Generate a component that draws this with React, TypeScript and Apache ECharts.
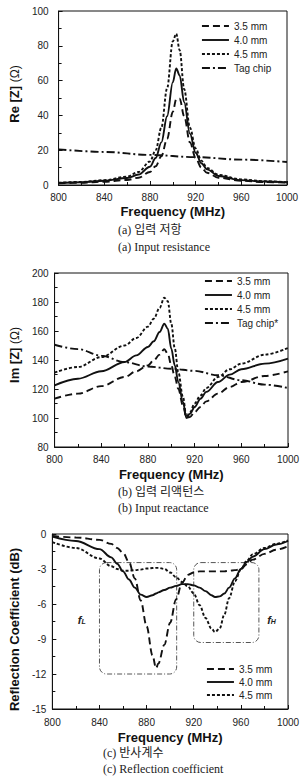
import React, { useEffect, useRef } from 'react';
import * as echarts from 'echarts';

// (a) input resistance, Re[Z] in ohms
const reFreq = [800, 820, 840, 860, 870, 880, 885, 890, 895, 900, 903, 906, 910, 915, 920, 925, 930, 940, 960, 980, 1000];
const re35 = [1.0, 1.3, 1.9, 2.9, 4.2, 7.5, 10.8, 16.5, 26.5, 42, 49.2, 49.6, 39.5, 24.5, 15.5, 10, 7, 4.2, 2.4, 1.7, 1.3];
const re40 = [1.2, 1.6, 2.4, 4.0, 6.0, 10.5, 15.5, 24.5, 39.5, 59, 67, 63, 47.5, 29.5, 18.5, 12.5, 9, 5.2, 2.8, 2.0, 1.5];
const re45 = [1.3, 1.8, 2.8, 4.8, 7.5, 13.5, 20, 33, 55.5, 82.5, 87, 77.5, 55, 33, 21, 14, 9.8, 5.8, 3.2, 2.2, 1.6];
const reTagFreq = [800, 840, 880, 920, 960, 1000];
const reTag = [20.5, 19.0, 17.3, 16.0, 14.6, 13.2];

// (b) input reactance, Im[Z] in ohms
const imFreq = [800, 820, 840, 860, 870, 880, 885, 890, 894, 897, 900, 903, 906, 910, 913, 916, 920, 925, 930, 940, 950, 960, 980, 1000];
const im35 = [113.3, 116.8, 122, 128.3, 132.2, 136.3, 139.8, 143.7, 147.4, 144.4, 136.3, 128.3, 120.2, 108.7, 100, 100.7, 104.1, 107.6, 111.5, 116.8, 121.4, 124.8, 129, 132.2];
const im40 = [122.5, 127.1, 132.2, 138.6, 143.2, 149, 152.9, 159.3, 165, 161.6, 147.8, 136.3, 124.8, 111, 100, 103, 107.6, 113.3, 118, 124.8, 129.9, 133.6, 137.5, 141];
const im45 = [131.3, 135.2, 142, 150, 155.2, 163, 168.5, 176, 183, 180.5, 165, 148, 131.7, 114.5, 100.7, 104, 110, 115.6, 120.7, 128.3, 133.6, 137.5, 143.7, 148.3];
const imTagFreq = [800, 820, 840, 860, 880, 900, 920, 940, 960, 980, 1000];
const imTag = [150.5, 147.5, 143, 138.5, 135.5, 134, 132.5, 129.5, 126, 123, 120.7];

// (c) reflection coefficient in dB
const rcFreq = [800, 820, 840, 850, 855, 860, 865, 870, 875, 880, 885, 888, 890, 895, 900, 905, 910, 915, 920, 925, 930, 935, 938, 942, 946, 950, 955, 960, 965, 970, 980, 990, 1000];
const rc35 = [-0.17, -0.3, -0.5, -0.85, -1.2, -1.6, -2.4, -3.8, -5.7, -7.9, -10.4, -11.5, -11.1, -9.5, -7.6, -5.6, -4.2, -3.5, -3.3, -3.2, -3.2, -3.2, -3.2, -3.2, -3.2, -3.15, -3.1, -3.0, -2.6, -2.2, -1.7, -1.35, -1.05];
const rc40 = [-0.23, -0.6, -1.3, -2.0, -2.55, -3.2, -3.9, -4.6, -5.2, -5.4, -5.25, -5.1, -5.0, -4.8, -4.6, -4.45, -4.3, -4.3, -4.4, -4.6, -4.9, -5.25, -5.4, -5.35, -5.1, -4.6, -3.8, -3.0, -2.4, -1.95, -1.3, -0.9, -0.6];
const rc45 = [-0.69, -1.2, -2.1, -2.77, -3.0, -3.14, -3.15, -3.1, -3.05, -2.96, -2.92, -2.9, -2.9, -3.0, -3.3, -3.7, -4.1, -4.5, -5.1, -6.1, -7.2, -8.1, -8.4, -8.1, -6.9, -5.5, -4.05, -3.05, -2.3, -1.75, -1.2, -0.85, -0.55];

// dash-dot boxes around the two resonance bands: [f1, dB1, f2, dB2]
const bandBoxes = [
  [840, -2.45, 905.5, -12.0],
  [920, -2.45, 975.3, -9.3],
];
// band labels: [f, dB, subscript]
const bandLabels: [number, number, string][] = [
  [825, -7.3, 'L'],
  [986, -7.3, 'H'],
];

const names35 = '3.5 mm';
const names40 = '4.0 mm';
const names45 = '4.5 mm';

const SANS = '"Liberation Sans", Arial, sans-serif';
const SERIF = '"Liberation Serif", "Noto Sans CJK KR", serif';
const INK = '#111';

const LONG = [7, 4];
const SHORT = [3, 2];
const DASHDOT = [8, 3, 2, 3];

const pairs = (xs: number[], ys: number[]) => xs.map((x, i) => [x, ys[i]]);

const line = (name: string, xs: number[], ys: number[], dash: any, gi: number) => ({
  type: 'line',
  name,
  xAxisIndex: gi,
  yAxisIndex: gi,
  data: pairs(xs, ys),
  symbol: 'none',
  smooth: 0.35,
  smoothMonotone: 'x',
  silent: true,
  lineStyle: { color: INK, width: 1.9, type: dash },
  itemStyle: { color: INK },
});

const xAxisFor = (gi: number, labelMargin: number, nameGap: number) => ({
  type: 'value',
  gridIndex: gi,
  min: 800,
  max: 1000,
  interval: 40,
  name: 'Frequency (MHz)',
  nameLocation: 'middle',
  nameGap,
  nameTextStyle: { fontFamily: SANS, fontSize: 13, fontWeight: 'bold', color: INK },
  axisLine: { show: true, onZero: false, lineStyle: { color: INK, width: 1 } },
  axisTick: { show: true, inside: true, length: 4, lineStyle: { color: INK } },
  minorTick: { show: true, splitNumber: 2, length: 3, lineStyle: { color: INK } },
  axisLabel: { fontFamily: SANS, fontSize: 10, color: '#222', margin: labelMargin, formatter: (v: number) => String(v) },
  splitLine: { show: false },
});

const yAxisFor = (gi: number, min: number, max: number, interval: number, name: string, nameGap: number, labelMargin: number, pad: number[]) => ({
  type: 'value',
  gridIndex: gi,
  min,
  max,
  interval,
  name,
  nameLocation: 'middle',
  nameGap,
  nameRotate: 90,
  nameTextStyle: {
    fontFamily: SANS,
    fontSize: 13,
    fontWeight: 'bold',
    color: INK,
    padding: pad,
    rich: {
      b: { fontFamily: SANS, fontSize: 13, fontWeight: 'bold', color: INK },
      n: { fontFamily: SANS, fontSize: 12, fontWeight: 'normal', color: INK },
    },
  },
  axisLine: { show: true, lineStyle: { color: INK, width: 1 } },
  axisTick: { show: true, inside: true, length: 4, lineStyle: { color: INK } },
  minorTick: { show: true, splitNumber: 2, length: 3, lineStyle: { color: INK } },
  axisLabel: { fontFamily: SANS, fontSize: 10, color: '#222', margin: labelMargin },
  splitLine: { show: false },
});

const legendFor = (names: string[], left: number, top: number, gap: number) => ({
  orient: 'vertical',
  left,
  top,
  padding: 0,
  data: names,
  itemWidth: 27,
  itemHeight: 10,
  itemGap: gap,
  selectedMode: false,
  itemStyle: { opacity: 0 },
  lineStyle: { width: 1.9 },
  textStyle: { fontFamily: SANS, fontSize: 10, color: '#222', lineHeight: 12 },
});

const caption = (text: string, x: number, y: number) => ({
  type: 'text',
  x,
  y,
  silent: true,
  style: { text, font: `12px ${SERIF}`, fill: '#222', verticalAlign: 'middle', align: 'left' },
});

export default function App() {
  const ref = useRef<HTMLDivElement>(null);

  useEffect(() => {
    if (!ref.current) return;
    const chart = echarts.init(ref.current, undefined, { renderer: 'svg' });

    const option: any = {
      animation: false,
      backgroundColor: '#fff',
      grid: [
        { left: 47, top: 11, width: 240, height: 174, show: true, borderColor: INK, borderWidth: 1, backgroundColor: 'transparent' },
        { left: 47, top: 273, width: 241, height: 174, show: true, borderColor: INK, borderWidth: 1, backgroundColor: 'transparent' },
        { left: 47, top: 534, width: 241, height: 175, show: true, borderColor: INK, borderWidth: 1, backgroundColor: 'transparent' },
      ],
      xAxis: [xAxisFor(0, 7, 20), xAxisFor(1, 7, 21), xAxisFor(2, 8, 22)],
      yAxis: [
        yAxisFor(0, 0, 100, 20, '{b|Re [Z]} {n|(Ω)}', 30, 10, [0, 0, 0, 8]),
        yAxisFor(1, 80, 200, 20, '{b|Im [Z]} {n|(Ω)}', 30, 6, [0, 0, 0, 10]),
        yAxisFor(2, -15, 0, 3, 'Reflection Coefficient (dB)', 30, 6, [0, 16, 0, 0]),
      ],
      legend: [
        legendFor([names35, names40, names45, 'Tag chip'], 201, 20, 2),
        legendFor([names35, names40, names45, 'Tag chip*'], 204, 275, 2),
        legendFor([names35, names40, names45], 206, 663, 1),
      ],
      series: [
        line(names35, reFreq, re35, LONG, 0),
        line(names40, reFreq, re40, 'solid', 0),
        line(names45, reFreq, re45, SHORT, 0),
        line('Tag chip', reTagFreq, reTag, DASHDOT, 0),

        line(names35, imFreq, im35, LONG, 1),
        line(names40, imFreq, im40, 'solid', 1),
        line(names45, imFreq, im45, SHORT, 1),
        line('Tag chip*', imTagFreq, imTag, DASHDOT, 1),

        line(names35, rcFreq, rc35, LONG, 2),
        line(names40, rcFreq, rc40, 'solid', 2),
        line(names45, rcFreq, rc45, SHORT, 2),
        {
          type: 'custom',
          name: 'bands',
          xAxisIndex: 2,
          yAxisIndex: 2,
          silent: true,
          data: bandBoxes,
          encode: { x: [0, 2], y: [1, 3] },
          renderItem: (_p: any, api: any) => {
            const a = api.coord([api.value(0), api.value(1)]);
            const b = api.coord([api.value(2), api.value(3)]);
            return {
              type: 'rect',
              shape: { x: a[0], y: a[1], width: b[0] - a[0], height: b[1] - a[1], r: 7 },
              style: { fill: 'none', stroke: '#555', lineWidth: 1, lineDash: [5, 2, 1, 2] },
            };
          },
        },
        {
          type: 'custom',
          name: 'bandLabels',
          xAxisIndex: 2,
          yAxisIndex: 2,
          silent: true,
          data: bandLabels,
          encode: { x: 0, y: 1 },
          renderItem: (params: any, api: any) => {
            const p = api.coord([api.value(0), api.value(1)]);
            const sub = bandLabels[params.dataIndex][2];
            return {
              type: 'text',
              x: p[0],
              y: p[1],
              style: {
                text: `{f|f}{s|${sub}}`,
                align: 'center',
                verticalAlign: 'middle',
                rich: {
                  f: { fontFamily: SANS, fontSize: 11, fontWeight: 'bold', fontStyle: 'italic', fill: '#222', verticalAlign: 'bottom' },
                  s: { fontFamily: SANS, fontSize: 7, fontWeight: 'bold', fontStyle: 'italic', fill: '#222', padding: [5, 0, 0, 0], verticalAlign: 'bottom' },
                },
              },
            };
          },
        },
      ],
      graphic: [
        caption('(a) 입력 저항', 118, 230),
        caption('(a) Input resistance', 118, 247),
        caption('(b) 입력 리액턴스', 118, 492),
        caption('(b) Input reactance', 118, 508),
        caption('(c) 반사계수', 103, 753),
        caption('(c) Reflection coefficient', 103, 769),
      ],
    };

    chart.setOption(option);
    return () => chart.dispose();
  }, []);

  return (
    <div
      ref={ref}
      style={{ position: 'absolute', left: 0, top: 0, width: 303, height: 784, background: '#fff' }}
    />
  );
}
